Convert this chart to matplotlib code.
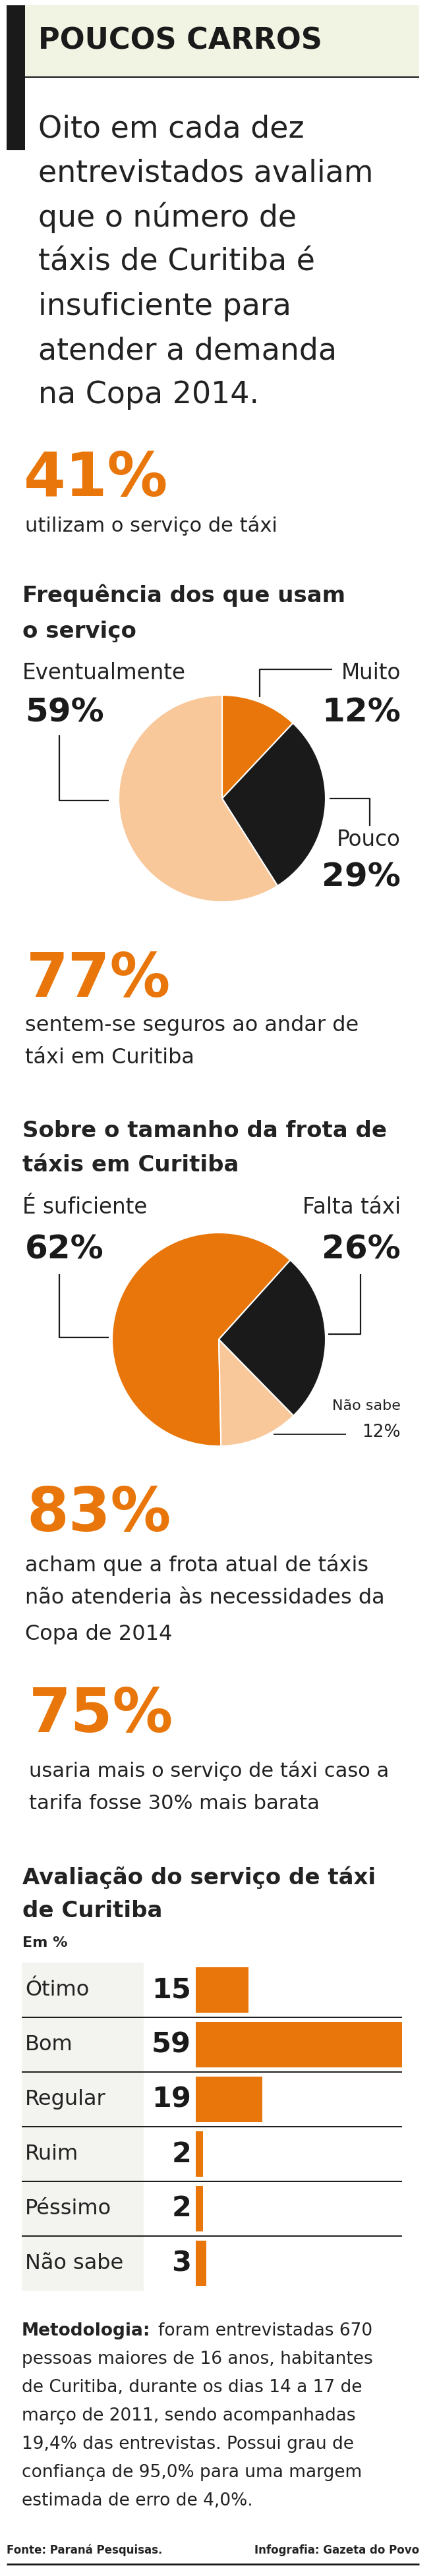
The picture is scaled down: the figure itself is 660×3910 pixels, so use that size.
import matplotlib
matplotlib.use("Agg")
import matplotlib.pyplot as plt
from matplotlib.patches import Rectangle

W, H = 660, 3910
ORANGE = "#E8760A"
LIGHT = "#F8C89A"
BLACK = "#1A1A1A"
TXT = "#222222"

# ── Data ──────────────────────────────────────────────────────────────────────
title = "POUCOS CARROS"
intro = ["Oito em cada dez", "entrevistados avaliam", "que o número de",
         "táxis de Curitiba é", "insuficiente para", "atender a demanda",
         "na Copa 2014."]

freq_labels = ["Muito", "Pouco", "Eventualmente"]
freq_values = [12, 29, 59]

frota_labels = ["É suficiente", "Não sabe", "Falta táxi"]
frota_values = [62, 12, 26]

aval_labels = ["Ótimo", "Bom", "Regular", "Ruim", "Péssimo", "Não sabe"]
aval_values = [15, 59, 19, 2, 2, 3]

metodo = ["foram entrevistadas 670",
          "pessoas maiores de 16 anos, habitantes",
          "de Curitiba, durante os dias 14 a 17 de",
          "março de 2011, sendo acompanhadas",
          "19,4% das entrevistas. Possui grau de",
          "confiança de 95,0% para uma margem",
          "estimada de erro de 4,0%."]

fig = plt.figure(figsize=(W / 100, H / 100), dpi=100)
ax = fig.add_axes([0, 0, 1, 1])
ax.set_xlim(0, W)
ax.set_ylim(H, 0)
ax.axis("off")


def t(x, y, s, size, color=TXT, weight="normal", ha="left"):
    ax.text(x, y, s, fontsize=size, color=color, fontweight=weight,
            ha=ha, va="center", family="DejaVu Sans")


def line(xs, ys, lw=1.6):
    ax.plot(xs, ys, color=BLACK, lw=lw, solid_capstyle="butt")


def sub_axes(x0, y0, w, h):
    return fig.add_axes([x0 / W, 1 - (y0 + h) / H, w / W, h / H])


# ── Header ────────────────────────────────────────────────────────────────────
ax.add_patch(Rectangle((16, 8), 620, 109, color="#F1F3E3", lw=0))
ax.add_patch(Rectangle((10, 8), 28, 220, color=BLACK, lw=0))
line([38, 636], [117, 117], lw=1.5)
t(58, 62, title, 32, color=BLACK, weight="bold")
for i, s in enumerate(intro):
    t(58, 196 + i * 67.3, s, 33)

# ── Big numbers ───────────────────────────────────────────────────────────────
t(36, 727, "41%", 66, color=ORANGE, weight="bold")
t(38, 798, "utilizam o serviço de táxi", 22)

t(34, 904, "Frequência dos que usam", 24.5, weight="bold")
t(34, 958, "o serviço", 24.5, weight="bold")

# ── Pie 1 ─────────────────────────────────────────────────────────────────────
r1 = 157
pa = sub_axes(337 - r1, 1212 - r1, 2 * r1, 2 * r1)
pa.pie(freq_values, colors=[ORANGE, BLACK, LIGHT], startangle=90,
       counterclock=False, radius=1, wedgeprops=dict(lw=1.5, edgecolor="white"))
pa.set_xlim(-1, 1)
pa.set_ylim(-1, 1)
pa.axis("off")

t(34, 1021, freq_labels[2], 23.5)
t(38, 1081, f"{freq_values[2]}%", 36, color=BLACK, weight="bold")
t(608, 1021, freq_labels[0], 23.5, ha="right")
t(608, 1081, f"{freq_values[0]}%", 36, color=BLACK, weight="bold", ha="right")
t(608, 1275, freq_labels[1], 23.5, ha="right")
t(608, 1331, f"{freq_values[1]}%", 36, color=BLACK, weight="bold", ha="right")
line([90, 90, 165], [1116, 1215, 1215])
line([394, 394, 504], [1058, 1016, 1016])
line([500, 561, 561], [1212, 1212, 1254])

t(40, 1487, "77%", 66, color=ORANGE, weight="bold")
t(38, 1557, "sentem-se seguros ao andar de", 23)
t(38, 1606, "táxi em Curitiba", 23)

t(34, 1716, "Sobre o tamanho da frota de", 24.5, weight="bold")
t(34, 1769, "táxis em Curitiba", 24.5, weight="bold")

# ── Pie 2 ─────────────────────────────────────────────────────────────────────
r2 = 162
pb = sub_axes(332 - r2, 2033 - r2, 2 * r2, 2 * r2)
pb.pie(frota_values, colors=[ORANGE, LIGHT, BLACK], startangle=48,
       counterclock=True, radius=1, wedgeprops=dict(lw=1.5, edgecolor="white"))
pb.set_xlim(-1, 1)
pb.set_ylim(-1, 1)
pb.axis("off")

t(34, 1832, frota_labels[0], 23.5)
t(38, 1896, f"{frota_values[0]}%", 36, color=BLACK, weight="bold")
t(608, 1832, frota_labels[2], 23.5, ha="right")
t(608, 1896, f"{frota_values[2]}%", 36, color=BLACK, weight="bold", ha="right")
t(608, 2134, frota_labels[1], 16, ha="right")
t(608, 2174, f"{frota_values[1]}%", 19, ha="right")
line([90, 90, 165], [1934, 2030, 2030])
line([547, 547, 498], [1934, 2025, 2025])
line([415, 525], [2177, 2177], lw=1.3)

t(40, 2298, "83%", 66, color=ORANGE, weight="bold")
t(38, 2375, "acham que a frota atual de táxis", 23)
t(38, 2426, "não atenderia às necessidades da", 23)
t(38, 2481, "Copa de 2014", 23)

t(44, 2603, "75%", 66, color=ORANGE, weight="bold")
t(44, 2688, "usaria mais o serviço de táxi caso a", 22)
t(44, 2737, "tarifa fosse 30% mais barata", 22)

t(34, 2850, "Avaliação do serviço de táxi", 24.5, weight="bold")
t(34, 2901, "de Curitiba", 24.5, weight="bold")
t(34, 2949, "Em %", 16, weight="bold")

# ── Bars ──────────────────────────────────────────────────────────────────────
row_h = 83
top = 2979
n = len(aval_labels)
ax.add_patch(Rectangle((33, top), 185, row_h * n, color="#F3F3EF", lw=0))
ba = sub_axes(297, top, 313, row_h * n)
ba.barh(range(n), aval_values, height=0.84, color=ORANGE)
ba.set_xlim(0, max(aval_values))
ba.set_ylim(n - 0.5, -0.5)
ba.axis("off")
for i, (lab, v) in enumerate(zip(aval_labels, aval_values)):
    yc = top + row_h * (i + 0.5)
    t(38, yc, lab, 23)
    t(290, yc, str(v), 31, color=BLACK, weight="bold", ha="right")
    if i < n - 1:
        line([33, 610], [top + row_h * (i + 1)] * 2, lw=1.4)

# ── Methodology ───────────────────────────────────────────────────────────────
ax.text(33, 3538, "Metodologia:", fontsize=19, fontweight="bold", color=TXT,
        va="center", family="DejaVu Sans")
t(240, 3538, metodo[0], 19)
for i, s in enumerate(metodo[1:], start=1):
    t(33, 3538 + i * 43, s, 19)

t(10, 3871, "Fonte: Paraná Pesquisas.", 12, weight="bold")
t(636, 3871, "Infografia: Gazeta do Povo", 12, weight="bold", ha="right")
line([10, 636], [3892, 3892], lw=2)

fig.savefig("out.png", dpi=100)
